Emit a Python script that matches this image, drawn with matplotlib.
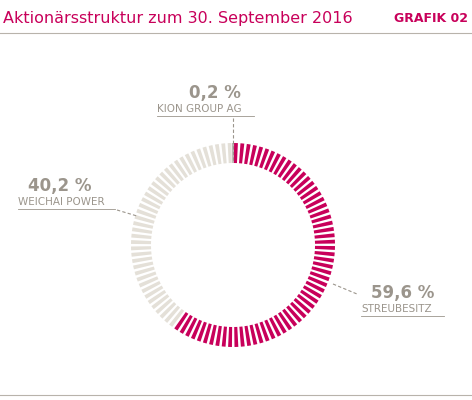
import matplotlib.pyplot as plt
from matplotlib.patches import Wedge

labels = ["STREUBESITZ", "WEICHAI POWER", "KION GROUP AG"]
values = [59.6, 40.2, 0.2]
pct_text = ["59,6 %", "40,2 %", "0,2 %"]
colors = ["#c8005a", "#e4e0d8", "#8c8780"]

RED = "#c8005a"
GREY = "#9b958c"

fig = plt.figure(figsize=(4.72, 4.0), dpi=100)
ax = fig.add_axes([0, 0, 1, 1])
ax.set_xlim(0, 472)
ax.set_ylim(0, 400)
ax.axis("off")

cx, cy = 233, 400 - 245
r_out, width = 102, 20
n_seg = 100
step = 360.0 / n_seg

# segmented ring: one tick per percent, clockwise from top
start = 90.0
for val, col in zip(values, colors):
    n = max(1, round(val))
    if val < 1:
        ax.add_patch(Wedge((cx, cy), r_out, start - 0.35, start + 0.35,
                           width=width, color=col, lw=0))
        continue
    for i in range(n):
        a1 = start - i * step - 0.6
        a0 = a1 - step * 0.6
        ax.add_patch(Wedge((cx, cy), r_out, a0, a1, width=width,
                           color=col, lw=0))
    start -= n * step

# title
ax.text(3, 400 - 18, "Aktionärsstruktur zum 30. September 2016", color=RED,
        fontsize=11.5, va="center", ha="left")
ax.text(468, 400 - 18, "GRAFIK 02", color=RED, fontsize=9, fontweight="bold",
        va="center", ha="right")
ax.plot([0, 472], [400 - 33, 400 - 33], color="#b8b3ab", lw=0.8)
ax.plot([0, 472], [400 - 395, 400 - 395], color="#b8b3ab", lw=0.8)

# labels (value, name, underline x-range, leader line)
lab_pos = {
    "KION GROUP AG": (157, 93, [(233, 118), (233, 162)]),
    "WEICHAI POWER": (18, 186, [(117, 210), (137, 216)]),
    "STREUBESITZ": (361, 293, [(333, 284), (357, 294)]),
}
for lab, pt in zip(labels, pct_text):
    x, y, lead = lab_pos[lab]
    w = len(lab) * 7.0
    if lab == "KION GROUP AG":
        ax.text(x + w / 2 + 12, 400 - y, pt, color=GREY, fontsize=12,
                fontweight="bold", ha="center", va="center")
    else:
        ax.text(x + 10, 400 - y, pt, color=GREY, fontsize=12,
                fontweight="bold", ha="left", va="center")
    ax.text(x, 400 - y - 16, lab, color=GREY, fontsize=7.5,
            ha="left", va="center")
    ax.plot([x, x + w + 6], [400 - y - 23, 400 - y - 23], color=GREY, lw=0.6)
    ax.plot([lead[0][0], lead[1][0]], [400 - lead[0][1], 400 - lead[1][1]],
            color=GREY, lw=0.8, ls=(0, (3, 2)))

fig.savefig("out.png", dpi=100)
